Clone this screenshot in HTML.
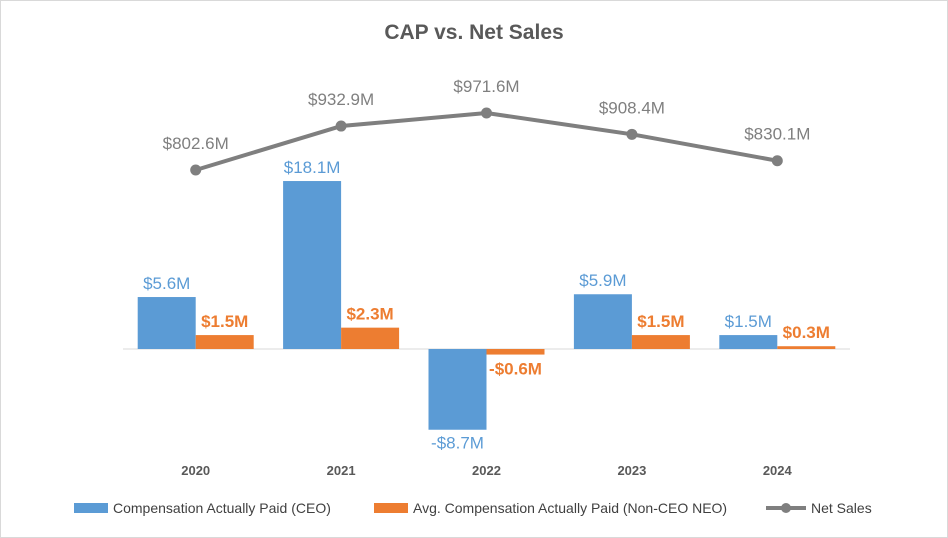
<!DOCTYPE html>
<html><head><meta charset="utf-8"><style>
html,body{margin:0;padding:0;background:#fff;}
svg{display:block;font-family:"Liberation Sans",sans-serif;}
</style></head><body>
<svg id="chart" width="948" height="538" viewBox="0 0 948 538">
<rect x="0.5" y="0.5" width="947" height="537" fill="#fff" stroke="#d9d9d9"/>
<text x="474" y="39" text-anchor="middle" font-size="21" font-weight="bold" fill="#595959">CAP vs. Net Sales</text>
<g id="plot"></g>
<g>
<g><rect x="74" y="503" width="34" height="10" fill="#5b9bd5"/><text x="113" y="513" font-size="14" fill="#404040">Compensation Actually Paid (CEO)</text></g>
<g><rect x="374" y="503" width="34" height="10" fill="#ed7d31"/><text x="413" y="513" font-size="14" fill="#404040">Avg. Compensation Actually Paid (Non-CEO NEO)</text></g>
<g><line x1="766" y1="508" x2="806" y2="508" stroke="#7f7f7f" stroke-width="4"/><circle cx="786" cy="508" r="5" fill="#7f7f7f"/><text x="811" y="513" font-size="14" fill="#404040">Net Sales</text></g>
</g>
</svg>
<script>
const categories=["2020","2021","2022","2023","2024"];
const ceoValues=[5.6,18.1,-8.7,5.9,1.5];
const neoValues=[1.5,2.3,-0.6,1.5,0.3];
const netSales=[802.6,932.9,971.6,908.4,830.1];
const ceoLabels=["$5.6M","$18.1M","-$8.7M","$5.9M","$1.5M"];
const neoLabels=["$1.5M","$2.3M","-$0.6M","$1.5M","$0.3M"];
const salesLabels=["$802.6M","$932.9M","$971.6M","$908.4M","$830.1M"];

const NS="http://www.w3.org/2000/svg";
const g=document.getElementById('plot');
const x0=123,step=145.4,baseY=349,pxPerM=9.28,barW=58;
const xc=i=>x0+step*(i+0.5);
const y=v=>baseY-v*pxPerM;
const ys=v=>170-(v-802.6)*0.3373;
function mk(t,a){const e=document.createElementNS(NS,t);for(const k in a)e.setAttribute(k,a[k]);g.appendChild(e);return e;}

const axis=mk('line',{x1:x0,y1:baseY,x2:850,y2:baseY,stroke:'#d9d9d9','stroke-width':1});



categories.forEach((c,i)=>{
  const cx=xc(i);
  const v=ceoValues[i],top=Math.min(y(v),baseY),h=Math.abs(y(v)-baseY);
  const b=mk('rect',{x:cx-barW,y:top,width:barW,height:h,fill:'#5b9bd5'});
  
  
  const ly=v>=0?y(v)-8:y(v)+19;
  const t=mk('text',{x:cx-barW/2,y:ly,'text-anchor':'middle','font-size':17,fill:'#5b9bd5'});t.textContent=ceoLabels[i];
  
  
  const n=neoValues[i],nt=Math.min(y(n),baseY),nh=Math.abs(y(n)-baseY);
  const b2=mk('rect',{x:cx,y:nt,width:barW,height:nh,fill:'#ed7d31'});
  
  
  const nly=n>=0?y(n)-8:y(n)+20;
  const t2=mk('text',{x:cx+barW/2,y:nly,'text-anchor':'middle','font-size':17,'font-weight':'bold',fill:'#ed7d31'});t2.textContent=neoLabels[i];
  
  
  const xl=mk('text',{x:cx,y:475,'text-anchor':'middle','font-size':13,'font-weight':'bold',fill:'#595959'});xl.textContent=c;
  
  
});
const pts=netSales.map((v,i)=>xc(i)+','+ys(v)).join(' ');
const line=mk('polyline',{points:pts,fill:'none',stroke:'#7f7f7f','stroke-width':4,'stroke-linejoin':'round'});


netSales.forEach((v,i)=>{
  const p=mk('circle',{cx:xc(i),cy:ys(v),r:5.5,fill:'#7f7f7f'});
  
  
  const t=mk('text',{x:xc(i),y:ys(v)-21,'text-anchor':'middle','font-size':17,fill:'#7f7f7f'});t.textContent=salesLabels[i];
  
  
});
</script>
</body></html>
